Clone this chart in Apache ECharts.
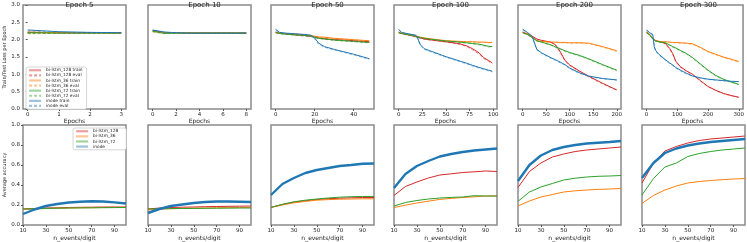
<!DOCTYPE html>
<html><head><meta charset="utf-8">
<script src="https://cdn.jsdelivr.net/npm/echarts@6/dist/echarts.min.js"></script>
<style>html,body{margin:0;padding:0;background:#fff}#c{width:747px;height:242px}</style>
</head><body><div id="c"></div>
<script>
// ---------- top row: loss per epoch ----------
const titles = ['Epoch 5','Epoch 10','Epoch 50','Epoch 100','Epoch 200','Epoch 300'];
const xTicks = [[0,1,2,3],[0,2,4,6,8],[0,20,40],[0,25,50,75,100],[0,50,100,150,200],[0,100,200,300]];
const xRange = [[-0.15,3.15],[-0.4,8.4],[-2.4,50.4],[-5,104],[-10,209],[-15,314]];

const x5 = [0,1,2,3];
const e5_128_tr = [2.21,2.20,2.20,2.20];
const e5_128_ev = [2.19,2.19,2.19,2.19];
const e5_36_tr = [2.22,2.20,2.20,2.19];
const e5_36_ev = [2.17,2.18,2.18,2.18];
const e5_72_tr = [2.20,2.19,2.19,2.19];
const e5_72_ev = [2.18,2.18,2.18,2.18];
const e5_in_tr = [2.28,2.23,2.21,2.20];
const e5_in_ev = [2.25,2.21,2.20,2.20];

const x10 = [0,1,2,3,4,5,6,7,8];
const e10_128_tr = [2.26,2.21,2.20,2.19,2.19,2.19,2.19,2.19,2.19];
const e10_128_ev = [2.24,2.19,2.19,2.18,2.18,2.18,2.18,2.18,2.18];
const e10_36_tr = [2.24,2.20,2.20,2.20,2.20,2.20,2.20,2.20,2.20];
const e10_36_ev = [2.22,2.18,2.19,2.19,2.19,2.19,2.19,2.19,2.19];
const e10_72_tr = [2.25,2.18,2.19,2.19,2.19,2.19,2.19,2.19,2.19];
const e10_72_ev = [2.23,2.17,2.18,2.18,2.18,2.18,2.18,2.18,2.18];
const e10_in_tr = [2.28,2.22,2.20,2.19,2.19,2.19,2.19,2.19,2.19];
const e10_in_ev = [2.26,2.20,2.19,2.18,2.18,2.18,2.18,2.18,2.18];

const x50 = [0,2,5,10,15,18,20,22,25,30,35,40,45,48];
const e50_128_tr = [2.22,2.19,2.17,2.14,2.12,2.10,2.08,2.05,2.03,2.00,1.99,1.97,1.95,1.94];
const e50_128_ev = [2.20,2.18,2.16,2.13,2.10,2.09,2.07,2.04,2.02,1.99,1.97,1.96,1.94,1.93];
const e50_36_tr = [2.20,2.19,2.18,2.16,2.14,2.12,2.10,2.08,2.07,2.04,2.02,2.00,1.98,1.97];
const e50_36_ev = [2.19,2.18,2.17,2.15,2.13,2.11,2.09,2.07,2.05,2.03,2.01,1.99,1.97,1.96];
const e50_72_tr = [2.21,2.18,2.16,2.14,2.12,2.10,2.07,2.04,2.02,1.99,1.97,1.95,1.93,1.92];
const e50_72_ev = [2.20,2.17,2.15,2.13,2.11,2.09,2.06,2.03,2.01,1.98,1.96,1.94,1.92,1.91];
const e50_in_tr = [2.30,2.21,2.19,2.17,2.15,2.13,2.05,1.90,1.80,1.72,1.65,1.58,1.50,1.45];
const e50_in_ev = [2.28,2.20,2.18,2.16,2.14,2.12,2.02,1.87,1.78,1.70,1.63,1.56,1.48,1.43];

const x100 = [0,3,10,18,20,23,27,35,50,65,72,78,85,90,95,99];
const e100_128_tr = [2.22,2.18,2.14,2.09,2.07,2.05,2.02,1.99,1.94,1.88,1.82,1.74,1.62,1.48,1.40,1.33];
const e100_128_ev = [2.20,2.17,2.13,2.08,2.06,2.04,2.01,1.98,1.93,1.86,1.80,1.71,1.58,1.45,1.37,1.30];
const e100_36_tr = [2.21,2.19,2.15,2.11,2.09,2.07,2.05,2.02,1.97,1.95,1.94,1.94,1.93,1.93,1.92,1.92];
const e100_36_ev = [2.20,2.18,2.14,2.10,2.08,2.06,2.04,2.01,1.96,1.94,1.93,1.93,1.92,1.92,1.91,1.91];
const e100_72_tr = [2.20,2.18,2.14,2.10,2.08,2.06,2.04,2.01,1.96,1.93,1.91,1.89,1.87,1.84,1.81,1.80];
const e100_72_ev = [2.19,2.17,2.13,2.09,2.07,2.05,2.03,2.00,1.95,1.92,1.90,1.88,1.85,1.82,1.79,1.78];
const e100_in_tr = [2.30,2.21,2.17,2.13,2.05,1.85,1.74,1.66,1.51,1.38,1.32,1.26,1.20,1.16,1.12,1.09];
const e100_in_ev = [2.28,2.20,2.16,2.12,2.02,1.82,1.72,1.64,1.49,1.36,1.30,1.24,1.18,1.14,1.10,1.07];

const x200 = [0,10,20,30,40,60,70,80,90,100,120,140,170,200];
const e200_128_tr = [2.22,2.17,2.10,2.02,1.98,1.93,1.85,1.65,1.40,1.27,1.10,0.95,0.74,0.55];
const e200_128_ev = [2.21,2.16,2.09,2.01,1.97,1.92,1.83,1.62,1.38,1.25,1.08,0.93,0.72,0.54];
const e200_36_tr = [2.21,2.16,2.08,1.97,1.95,1.93,1.93,1.92,1.92,1.91,1.91,1.90,1.80,1.68];
const e200_36_ev = [2.20,2.15,2.07,1.96,1.94,1.92,1.92,1.91,1.91,1.90,1.90,1.89,1.78,1.66];
const e200_72_tr = [2.20,2.15,2.06,1.97,1.93,1.85,1.79,1.74,1.68,1.63,1.55,1.45,1.28,1.12];
const e200_72_ev = [2.19,2.14,2.05,1.96,1.92,1.84,1.77,1.72,1.66,1.61,1.53,1.43,1.26,1.10];
const e200_in_tr = [2.30,2.21,2.10,1.72,1.62,1.48,1.42,1.35,1.28,1.18,1.05,0.95,0.88,0.84];
const e200_in_ev = [2.28,2.20,2.08,1.70,1.60,1.46,1.40,1.33,1.26,1.16,1.03,0.94,0.87,0.83];

const x300 = [0,10,20,25,30,40,60,75,85,95,110,130,150,175,200,225,250,275,300];
const e300_128_tr = [2.22,2.15,2.05,2.00,1.97,1.95,1.90,1.75,1.60,1.38,1.22,1.10,1.00,0.82,0.65,0.54,0.45,0.39,0.34];
const e300_128_ev = [2.21,2.14,2.04,1.99,1.96,1.94,1.89,1.72,1.57,1.36,1.20,1.08,0.98,0.80,0.64,0.53,0.44,0.38,0.33];
const e300_36_tr = [2.21,2.15,2.05,2.00,1.97,1.95,1.94,1.93,1.92,1.92,1.91,1.90,1.88,1.78,1.66,1.58,1.50,1.44,1.37];
const e300_36_ev = [2.20,2.14,2.04,1.99,1.96,1.94,1.93,1.92,1.91,1.91,1.90,1.89,1.86,1.76,1.64,1.56,1.48,1.42,1.35];
const e300_72_tr = [2.20,2.14,2.02,1.98,1.96,1.94,1.91,1.85,1.80,1.76,1.69,1.60,1.48,1.30,1.12,0.97,0.86,0.78,0.71];
const e300_72_ev = [2.19,2.13,2.01,1.97,1.95,1.93,1.90,1.83,1.78,1.74,1.67,1.58,1.46,1.28,1.10,0.95,0.85,0.77,0.70];
const e300_in_tr = [2.28,2.20,2.15,1.80,1.68,1.58,1.43,1.33,1.27,1.20,1.12,1.03,0.95,0.90,0.86,0.84,0.82,0.80,0.79];
const e300_in_ev = [2.26,2.19,2.13,1.78,1.66,1.56,1.41,1.31,1.25,1.18,1.10,1.01,0.94,0.89,0.85,0.83,0.81,0.79,0.78];

// ---------- bottom row: accuracy vs n_events/digit ----------
const nEvents = [10,20,30,40,50,60,70,80,90,100];
const a5_128 = [0.16,0.165,0.17,0.172,0.175,0.177,0.178,0.18,0.18,0.18];
const a5_36 = [0.155,0.16,0.165,0.168,0.17,0.172,0.173,0.175,0.176,0.177];
const a5_72 = [0.16,0.163,0.166,0.168,0.17,0.171,0.172,0.173,0.174,0.175];
const a5_in = [0.11,0.155,0.19,0.21,0.225,0.233,0.237,0.235,0.226,0.215];
const a10_128 = [0.16,0.17,0.175,0.178,0.18,0.183,0.185,0.187,0.188,0.19];
const a10_36 = [0.15,0.158,0.163,0.166,0.168,0.17,0.172,0.173,0.174,0.175];
const a10_72 = [0.16,0.162,0.164,0.165,0.166,0.167,0.168,0.169,0.17,0.17];
const a10_in = [0.12,0.16,0.19,0.205,0.22,0.23,0.235,0.235,0.233,0.23];
const a50_128 = [0.176,0.205,0.228,0.243,0.255,0.263,0.268,0.272,0.275,0.275];
const a50_36 = [0.176,0.2,0.222,0.236,0.248,0.254,0.258,0.26,0.262,0.262];
const a50_72 = [0.176,0.207,0.232,0.248,0.26,0.27,0.278,0.283,0.285,0.286];
const a50_in = [0.30,0.41,0.47,0.52,0.55,0.57,0.59,0.60,0.613,0.615];
const a100_128 = [0.295,0.385,0.43,0.47,0.50,0.512,0.525,0.532,0.54,0.535];
const a100_36 = [0.175,0.198,0.22,0.238,0.256,0.266,0.275,0.282,0.29,0.29];
const a100_72 = [0.19,0.225,0.245,0.26,0.27,0.276,0.28,0.293,0.29,0.29];
const a100_in = [0.37,0.51,0.59,0.64,0.685,0.71,0.73,0.745,0.755,0.765];
const a200_128 = [0.375,0.535,0.62,0.68,0.71,0.735,0.75,0.76,0.77,0.78];
const a200_36 = [0.19,0.24,0.28,0.305,0.33,0.342,0.35,0.356,0.36,0.365];
const a200_72 = [0.237,0.33,0.38,0.415,0.45,0.468,0.48,0.487,0.49,0.495];
const a200_in = [0.44,0.60,0.695,0.75,0.78,0.80,0.815,0.823,0.83,0.84];
const a300_128 = [0.42,0.62,0.74,0.785,0.82,0.845,0.86,0.87,0.88,0.89];
const a300_36 = [0.215,0.295,0.35,0.39,0.42,0.435,0.445,0.453,0.46,0.465];
const a300_72 = [0.30,0.465,0.58,0.62,0.685,0.715,0.735,0.75,0.76,0.77];
const a300_in = [0.47,0.62,0.72,0.765,0.795,0.815,0.83,0.84,0.85,0.86];

const modelNames = ['bi-lstm_128','bi-lstm_36','bi-lstm_72','inode'];
const colors = ['#d62728','#ff7f0e','#2ca02c','#1f77b4'];

const lossX = [x5,x10,x50,x100,x200,x300];
const lossTrain = [
  [e5_128_tr,e5_36_tr,e5_72_tr,e5_in_tr],
  [e10_128_tr,e10_36_tr,e10_72_tr,e10_in_tr],
  [e50_128_tr,e50_36_tr,e50_72_tr,e50_in_tr],
  [e100_128_tr,e100_36_tr,e100_72_tr,e100_in_tr],
  [e200_128_tr,e200_36_tr,e200_72_tr,e200_in_tr],
  [e300_128_tr,e300_36_tr,e300_72_tr,e300_in_tr]];
const lossEval = [
  [e5_128_ev,e5_36_ev,e5_72_ev,e5_in_ev],
  [e10_128_ev,e10_36_ev,e10_72_ev,e10_in_ev],
  [e50_128_ev,e50_36_ev,e50_72_ev,e50_in_ev],
  [e100_128_ev,e100_36_ev,e100_72_ev,e100_in_ev],
  [e200_128_ev,e200_36_ev,e200_72_ev,e200_in_ev],
  [e300_128_ev,e300_36_ev,e300_72_ev,e300_in_ev]];
const acc = [
  [a5_128,a5_36,a5_72,a5_in],
  [a10_128,a10_36,a10_72,a10_in],
  [a50_128,a50_36,a50_72,a50_in],
  [a100_128,a100_36,a100_72,a100_in],
  [a200_128,a200_36,a200_72,a200_in],
  [a300_128,a300_36,a300_72,a300_in]];

// ---------- layout ----------
const lefts = [23,148,271,394,518,642];
const W = 103, H = 104, TOP1 = 5, TOP2 = 125;
const FONT = 'DejaVu Sans';
const txt = '#222';

const grid = [], xAxis = [], yAxis = [], series = [], title = [];
const zip = (xs, ys) => xs.map((x, i) => [x, ys[i]]);

for (let p = 0; p < 6; p++) {
  grid.push({left: lefts[p], top: TOP1, width: W, height: H, show: true, borderColor: '#8a8a8a', borderWidth: 1.5, backgroundColor: 'transparent'});
  title.push({text: titles[p], left: lefts[p] + W/2, top: -3, textAlign: 'center',
    textStyle: {fontSize: 7, fontWeight: 'normal', color: txt, fontFamily: FONT}});
  xAxis.push({type: 'value', gridIndex: p, min: xRange[p][0], max: xRange[p][1],
    name: 'Epochs', nameLocation: 'middle', nameGap: 9,
    nameTextStyle: {fontSize: 6, color: txt, fontFamily: FONT},
    splitLine: {show: false}, axisLine: {show: false},
    axisTick: {show: true, length: 2, customValues: xTicks[p], lineStyle: {color: '#555'}},
    axisLabel: {fontSize: 5.5, margin: 3, color: txt, fontFamily: FONT, customValues: xTicks[p]}});
  yAxis.push({type: 'value', gridIndex: p, min: 0, max: 3, interval: 0.5,
    name: p === 0 ? 'Train/Test Loss per Epoch' : '', nameLocation: 'middle', nameGap: 15, nameRotate: 90,
    nameTextStyle: {fontSize: 5, color: txt, fontFamily: FONT},
    splitLine: {show: false}, axisLine: {show: false},
    axisTick: {show: p === 0, length: 2, lineStyle: {color: '#555'}},
    axisLabel: {show: p === 0, fontSize: 5.5, margin: 3, color: txt, fontFamily: FONT, formatter: v => v.toFixed(1)}});
  for (let m = 0; m < 4; m++) {
    series.push({type: 'line', name: modelNames[m] + ' train', xAxisIndex: p, yAxisIndex: p,
      data: zip(lossX[p], lossTrain[p][m]), symbol: 'none', animation: false,
      lineStyle: {color: colors[m], width: 1}, itemStyle: {color: colors[m]}, z: 3});
    series.push({type: 'line', name: modelNames[m] + ' eval', xAxisIndex: p, yAxisIndex: p,
      data: zip(lossX[p], lossEval[p][m]), symbol: 'none', animation: false,
      lineStyle: {color: colors[m], width: 1, type: [3, 2], opacity: 0.5}, itemStyle: {color: colors[m]}, z: 2});
  }
}
for (let p = 0; p < 6; p++) {
  const gi = 6 + p;
  grid.push({left: lefts[p], top: TOP2, width: W, height: H, show: true, borderColor: '#8a8a8a', borderWidth: 1.5, backgroundColor: 'transparent'});
  xAxis.push({type: 'value', gridIndex: gi, min: 10, max: 100,
    name: 'n_events/digit', nameLocation: 'middle', nameGap: 10,
    nameTextStyle: {fontSize: 6, color: txt, fontFamily: FONT},
    splitLine: {show: false}, axisLine: {show: false},
    axisTick: {show: true, length: 2, customValues: [10,30,50,70,90], lineStyle: {color: '#555'}},
    axisLabel: {fontSize: 5.5, margin: 3, color: txt, fontFamily: FONT, customValues: [10,30,50,70,90]}});
  yAxis.push({type: 'value', gridIndex: gi, min: 0, max: 1, interval: 0.2,
    name: p === 0 ? 'Average accuracy' : '', nameLocation: 'middle', nameGap: 15, nameRotate: 90,
    nameTextStyle: {fontSize: 5, color: txt, fontFamily: FONT},
    splitLine: {show: false}, axisLine: {show: false},
    axisTick: {show: p === 0, length: 2, lineStyle: {color: '#555'}},
    axisLabel: {show: p === 0, fontSize: 5.5, margin: 3, color: txt, fontFamily: FONT, formatter: v => v.toFixed(1)}});
  for (let m = 0; m < 4; m++) {
    series.push({type: 'line', name: modelNames[m], xAxisIndex: gi, yAxisIndex: gi,
      data: zip(nEvents, acc[p][m]), symbol: 'none', animation: false,
      lineStyle: {color: colors[m], width: m === 3 ? 2.4 : 1}, itemStyle: {color: colors[m]}, z: m === 3 ? 4 : 3});
  }
}

const legendText = {fontSize: 4.3, lineHeight: 4.5, color: txt, fontFamily: FONT, padding: 0};
const legendCommon = {orient: 'vertical', itemWidth: 12, itemHeight: 4, itemGap: 0.6,
  backgroundColor: '#fff', borderColor: '#ccc', borderWidth: 0.8, borderRadius: 2,
  textStyle: legendText, lineStyle: {opacity: 0.45, width: 2.2}, itemStyle: {opacity: 0},
  selectedMode: false};
const legend = [
  Object.assign({data: ['bi-lstm_128 train','bi-lstm_128 eval','bi-lstm_36 train','bi-lstm_36 eval','bi-lstm_72 train','bi-lstm_72 eval','inode train','inode eval'],
    left: 26, top: 67, padding: [1, 4, 1, 2]}, legendCommon),
  Object.assign({data: modelNames, left: 73, top: 128, padding: [1, 8, 1, 2]}, legendCommon)
];

const chart = echarts.init(document.getElementById('c'), null, {renderer: 'canvas'});
chart.setOption({backgroundColor: '#fff', animation: false, title, legend, grid, xAxis, yAxis, series});
</script>
</body></html>
